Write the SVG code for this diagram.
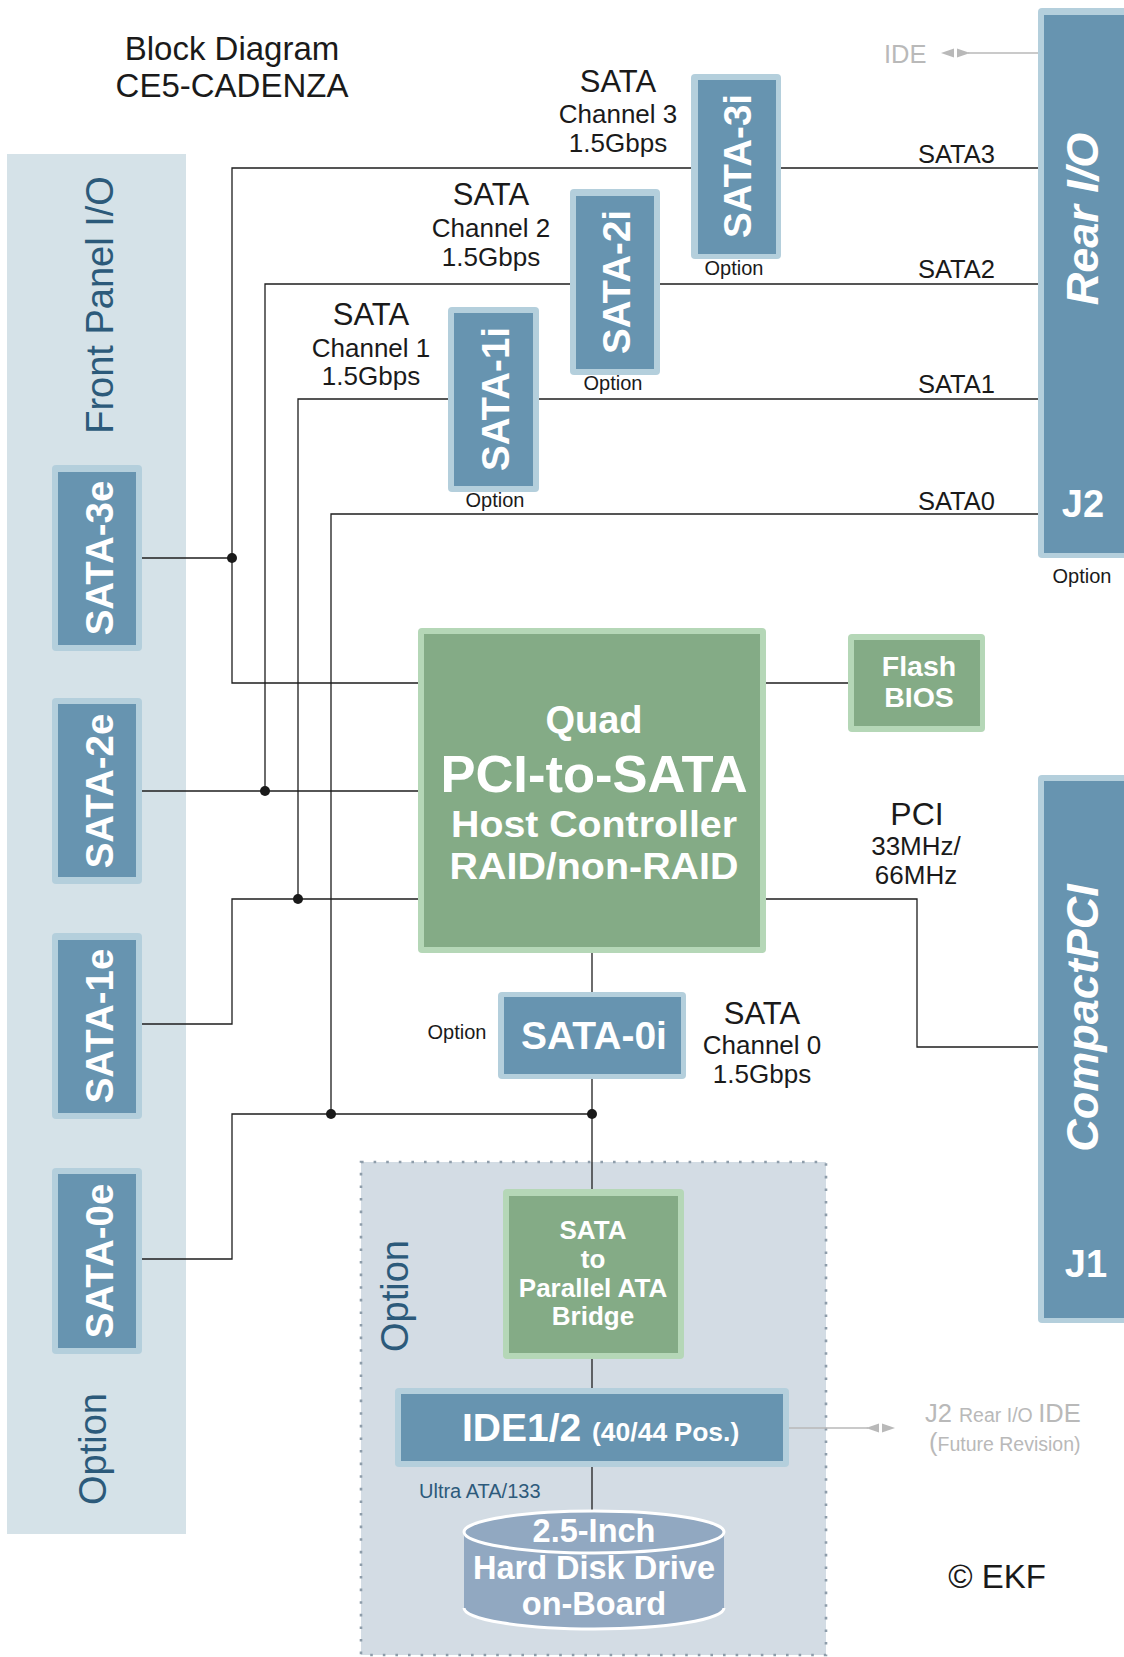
<svg xmlns="http://www.w3.org/2000/svg" width="1124" height="1657" viewBox="0 0 1124 1657">
<style>
.bo{fill:#b4cfdc}
.bi{fill:#6794b0}
.go{fill:#b5d7b7}
.gi{fill:#84ab86}
.wb{font-family:"Liberation Sans",Arial,sans-serif;font-weight:bold;fill:#ffffff}
.t{font-family:"Liberation Sans",Arial,sans-serif;fill:#1a1a1a}
.bl{font-family:"Liberation Sans",Arial,sans-serif;fill:#2c5a7a}
.gr{font-family:"Liberation Sans",Arial,sans-serif;fill:#b9b9b9}
.ln{stroke:#1e1e1e;stroke-width:1.3;fill:none}
.gl{stroke:#b9b9b9;stroke-width:1.3;fill:none}
.dot{fill:#1a1a1a}
</style>
<defs>
<g id="dbl">
<polygon points="0,0 13,-4.5 13,4.5" fill="#b9b9b9"/>
<polygon points="29,0 16,-4.5 16,4.5" fill="#b9b9b9"/>
</g>
</defs>
<rect width="1124" height="1657" fill="#ffffff"/>

<g id="front-panel">
<rect x="7" y="154" width="179" height="1380" fill="#d5e2e8"/>
<text class="bl" font-size="38" text-anchor="middle" transform="translate(113,305) rotate(-90)">Front Panel I/O</text>
<text class="bl" font-size="38" text-anchor="middle" transform="translate(106,1449) rotate(-90)">Option</text>
</g>
<g id="option-area">
<rect x="361" y="1162" width="465" height="493" fill="#d3dce4" stroke="#8e9daa" stroke-width="2.6" stroke-dasharray="2.6 10"/>
<text class="bl" font-size="38" text-anchor="middle" transform="translate(408,1296) rotate(-90)">Option</text>
</g>

<g id="title">
<text class="t" font-size="33" text-anchor="middle" x="232" y="60">Block Diagram</text>
<text class="t" font-size="33" text-anchor="middle" x="232" y="97">CE5-CADENZA</text>
</g>

<g id="connectors">
<polyline class="ln" points="1038,168 232,168 232,683 418,683"/>
<polyline class="ln" points="1038,284 265,284 265,791"/>
<polyline class="ln" points="1038,399 298,399 298,899"/>
<polyline class="ln" points="1038,514 331,514 331,1114"/>
<line class="ln" x1="142" y1="558" x2="232" y2="558"/>
<line class="ln" x1="142" y1="791" x2="418" y2="791"/>
<polyline class="ln" points="142,1024 232,1024 232,899 418,899"/>
<polyline class="ln" points="142,1259 232,1259 232,1114 592,1114"/>
<line class="ln" x1="592" y1="953" x2="592" y2="1189"/>
<line class="ln" x1="592" y1="1359" x2="592" y2="1388"/>
<line class="ln" x1="592" y1="1467" x2="592" y2="1511"/>
<line class="ln" x1="766" y1="683" x2="848" y2="683"/>
<polyline class="ln" points="766,899 917,899 917,1047 1038,1047"/>
<circle class="dot" cx="232" cy="558" r="5"/>
<circle class="dot" cx="265" cy="791" r="5"/>
<circle class="dot" cx="298" cy="899" r="5"/>
<circle class="dot" cx="331" cy="1114" r="5"/>
<circle class="dot" cx="592" cy="1114" r="5"/>
<line class="gl" x1="968" y1="53" x2="1038" y2="53"/>
<use href="#dbl" x="941" y="53"/>
<line class="gl" x1="789" y1="1428" x2="868" y2="1428"/>
<use href="#dbl" x="866" y="1428"/>
</g>

<g id="labels">
<text class="t" font-size="31" text-anchor="middle" x="618" y="92">SATA</text>
<text class="t" font-size="26" text-anchor="middle" x="618" y="123">Channel 3</text>
<text class="t" font-size="26" text-anchor="middle" x="618" y="152">1.5Gbps</text>
<text class="t" font-size="31" text-anchor="middle" x="491" y="205">SATA</text>
<text class="t" font-size="26" text-anchor="middle" x="491" y="237">Channel 2</text>
<text class="t" font-size="26" text-anchor="middle" x="491" y="266">1.5Gbps</text>
<text class="t" font-size="31" text-anchor="middle" x="371" y="325">SATA</text>
<text class="t" font-size="26" text-anchor="middle" x="371" y="357">Channel 1</text>
<text class="t" font-size="26" text-anchor="middle" x="371" y="385">1.5Gbps</text>
<text class="t" font-size="31" text-anchor="middle" x="762" y="1024">SATA</text>
<text class="t" font-size="26" text-anchor="middle" x="762" y="1054">Channel 0</text>
<text class="t" font-size="26" text-anchor="middle" x="762" y="1083">1.5Gbps</text>
<text class="t" font-size="25.5" x="918" y="163">SATA3</text>
<text class="t" font-size="25.5" x="918" y="278">SATA2</text>
<text class="t" font-size="25.5" x="918" y="393">SATA1</text>
<text class="t" font-size="25.5" x="918" y="510">SATA0</text>
<text class="t" font-size="20" text-anchor="middle" x="734" y="275">Option</text>
<text class="t" font-size="20" text-anchor="middle" x="613" y="390">Option</text>
<text class="t" font-size="20" text-anchor="middle" x="495" y="507">Option</text>
<text class="t" font-size="20" text-anchor="middle" x="1082" y="583">Option</text>
<text class="t" font-size="20" text-anchor="middle" x="457" y="1039">Option</text>
<text class="t" font-size="32" text-anchor="middle" x="917" y="825">PCI</text>
<text class="t" font-size="26" text-anchor="middle" x="916" y="855">33MHz/</text>
<text class="t" font-size="26" text-anchor="middle" x="916" y="884">66MHz</text>
<text class="gr" font-size="25.5" x="884" y="63">IDE</text>
<text class="gr" x="925" y="1422"><tspan font-size="25.5">J2 </tspan><tspan font-size="19.5">Rear I/O </tspan><tspan font-size="25.5">IDE</tspan></text>
<text class="gr" x="929" y="1451"><tspan font-size="25.5">(</tspan><tspan font-size="19.5">Future Revision)</tspan></text>
<text style="font-family:'Liberation Sans',Arial,sans-serif;fill:#2d5a7b" font-size="20" x="419" y="1498">Ultra ATA/133</text>
<text class="t" font-size="33" text-anchor="middle" x="997" y="1588">© EKF</text>
</g>

<g id="sata-3e">
<rect class="bo" x="52" y="465" width="90" height="186" rx="4"/>
<rect class="bi" x="58" y="472" width="78" height="173"/>
<text class="wb" font-size="38.5" text-anchor="middle" transform="translate(113,558) rotate(-90)">SATA-3e</text>
</g>
<g id="sata-2e">
<rect class="bo" x="52" y="698" width="90" height="186" rx="4"/>
<rect class="bi" x="58" y="704" width="78" height="173"/>
<text class="wb" font-size="38.5" text-anchor="middle" transform="translate(113,791) rotate(-90)">SATA-2e</text>
</g>
<g id="sata-1e">
<rect class="bo" x="52" y="933" width="90" height="186" rx="4"/>
<rect class="bi" x="58" y="940" width="78" height="173"/>
<text class="wb" font-size="38.5" text-anchor="middle" transform="translate(113,1026) rotate(-90)">SATA-1e</text>
</g>
<g id="sata-0e">
<rect class="bo" x="52" y="1168" width="90" height="186" rx="4"/>
<rect class="bi" x="58" y="1174" width="78" height="174"/>
<text class="wb" font-size="38.5" text-anchor="middle" transform="translate(113,1261) rotate(-90)">SATA-0e</text>
</g>
<g id="sata-1i">
<rect class="bo" x="448" y="307" width="91" height="185" rx="4"/>
<rect class="bi" x="454" y="313" width="79" height="173"/>
<text class="wb" font-size="38.5" text-anchor="middle" transform="translate(509,399) rotate(-90)">SATA-1i</text>
</g>
<g id="sata-2i">
<rect class="bo" x="570" y="189" width="90" height="186" rx="4"/>
<rect class="bi" x="576" y="196" width="78" height="173"/>
<text class="wb" font-size="38.5" text-anchor="middle" transform="translate(630,282) rotate(-90)">SATA-2i</text>
</g>
<g id="sata-3i">
<rect class="bo" x="691" y="74" width="90" height="185" rx="4"/>
<rect class="bi" x="698" y="80" width="78" height="174"/>
<text class="wb" font-size="38.5" text-anchor="middle" transform="translate(751,166) rotate(-90)">SATA-3i</text>
</g>
<g id="rear-io">
<rect class="bo" x="1038" y="8" width="100" height="550" rx="4"/>
<rect class="bi" x="1044" y="15" width="94" height="538"/>
<text class="wb" font-size="45" font-style="italic" text-anchor="middle" transform="translate(1098,219) rotate(-90)">Rear I/O</text>
<text class="wb" font-size="38" text-anchor="middle" x="1083" y="517">J2</text>
</g>
<g id="compactpci">
<rect class="bo" x="1038" y="775" width="100" height="548" rx="4"/>
<rect class="bi" x="1044" y="781" width="94" height="537"/>
<text class="wb" font-size="45" font-style="italic" text-anchor="middle" transform="translate(1098,1018) rotate(-90)">CompactPCI</text>
<text class="wb" font-size="38" text-anchor="middle" x="1086" y="1277">J1</text>
</g>
<g id="controller">
<rect class="go" x="418" y="628" width="348" height="325" rx="4"/>
<rect class="gi" x="424" y="634" width="336" height="313"/>
<text class="wb" font-size="38" text-anchor="middle" x="594" y="733">Quad</text>
<text class="wb" font-size="52.5" text-anchor="middle" x="594" y="792">PCI-to-SATA</text>
<text class="wb" font-size="36" text-anchor="middle" x="594" y="837" textLength="286" lengthAdjust="spacingAndGlyphs">Host Controller</text>
<text class="wb" font-size="36" text-anchor="middle" x="594" y="879" textLength="289" lengthAdjust="spacingAndGlyphs">RAID/non-RAID</text>
</g>
<g id="flash-bios">
<rect class="go" x="848" y="634" width="137" height="98" rx="4"/>
<rect class="gi" x="854" y="640" width="126" height="86"/>
<text class="wb" font-size="28.5" text-anchor="middle" x="919" y="676">Flash</text>
<text class="wb" font-size="28.5" text-anchor="middle" x="919" y="707">BIOS</text>
</g>
<g id="sata-0i">
<rect class="bo" x="498" y="992" width="188" height="87" rx="4"/>
<rect class="bi" x="504" y="997" width="177" height="77"/>
<text class="wb" font-size="39" text-anchor="middle" x="594" y="1049">SATA-0i</text>
</g>
<g id="bridge">
<rect class="go" x="503" y="1189" width="181" height="170" rx="4"/>
<rect class="gi" x="509" y="1196" width="169" height="157"/>
<text class="wb" font-size="26" text-anchor="middle" x="593" y="1239">SATA</text>
<text class="wb" font-size="26" text-anchor="middle" x="593" y="1268">to</text>
<text class="wb" font-size="26" text-anchor="middle" x="593" y="1297">Parallel ATA</text>
<text class="wb" font-size="26" text-anchor="middle" x="593" y="1325">Bridge</text>
</g>
<g id="ide12">
<rect class="bo" x="395" y="1388" width="394" height="79" rx="4"/>
<rect class="bi" x="401" y="1394" width="382" height="67"/>
<text class="wb" x="462" y="1441"><tspan font-size="39">IDE1/2</tspan><tspan x="592" font-size="26.5">(40/44 Pos.)</tspan></text>
</g>
<g id="hdd">
<path d="M464,1532 L464,1608 A130,21 0 0 0 724,1608 L724,1532 Z" fill="#91a8c1"/>
<path d="M464,1608 A130,21 0 0 0 724,1608" fill="none" stroke="#ffffff" stroke-width="3"/>
<ellipse cx="594" cy="1532" rx="130" ry="21" fill="#91a8c1" stroke="#ffffff" stroke-width="3"/>
<text class="wb" font-size="32.5" text-anchor="middle" x="594" y="1542">2.5-Inch</text>
<text class="wb" font-size="32.5" text-anchor="middle" x="594" y="1579">Hard Disk Drive</text>
<text class="wb" font-size="32.5" text-anchor="middle" x="594" y="1615">on-Board</text>
</g>
</svg>
